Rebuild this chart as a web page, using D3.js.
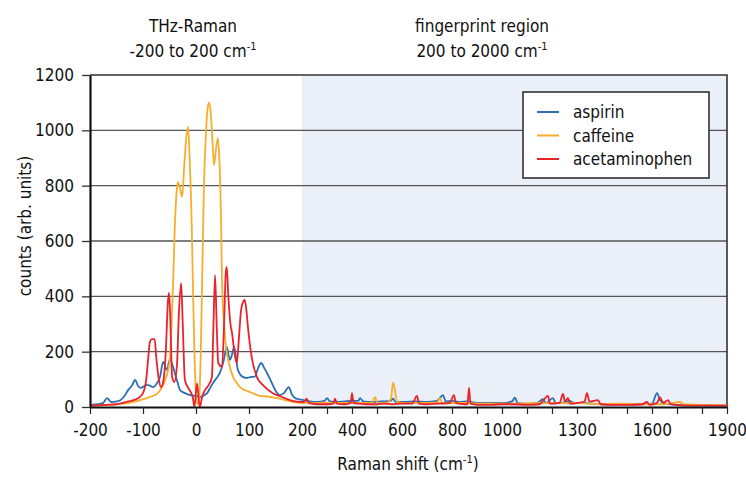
<!DOCTYPE html>
<html lang="en">
<head>
<meta charset="UTF-8">
<title>THz-Raman spectra</title>
<script src="https://d3js.org/d3.v7.min.js"></script>
<style>
  body { margin: 0; background: #fff; }
  text { font-family: "DejaVu Sans Condensed", "DejaVu Sans", sans-serif; font-stretch: condensed; fill: #111; }
</style>
</head>
<body>
<div id="chart"></div>
<script>
// Raman shift (cm-1), counts pairs
const aspirin = [
  [-200, 8], [-185, 10], [-175, 15], [-168, 32], [-160, 18], [-150, 20], [-142, 25], [-135, 40],
  [-128, 61], [-120, 80], [-115, 98], [-109, 75], [-104, 69], [-98, 75], [-94, 80], [-88, 78],
  [-81, 72], [-74, 85], [-68, 108], [-62, 163], [-55, 134], [-49, 173], [-44, 150], [-40, 123],
  [-35, 90], [-30, 61], [-21, 50], [-11, 43], [0, 40], [8, 36], [15, 42], [21, 50], [27, 70],
  [32, 87], [39, 105], [45, 123], [52, 165], [58, 217], [64, 170], [68, 190], [72, 217], [79, 134],
  [89, 108], [96, 105], [102, 108], [111, 110], [117, 140], [123, 159], [129, 140], [134, 123],
  [143, 87], [150, 60], [158, 43], [166, 50], [175, 72], [181, 45], [187, 32], [195, 28], [206, 25],
  [230, 20], [260, 18], [290, 22], [300, 32], [312, 20], [340, 18], [370, 20], [400, 22], [425, 22],
  [432, 32], [445, 20], [480, 18], [520, 20], [555, 22], [564, 30], [575, 18], [610, 18], [650, 20],
  [700, 18], [740, 22], [764, 43], [775, 20], [800, 22], [830, 18], [860, 20], [900, 15], [950, 15],
  [1000, 14], [1040, 20], [1052, 34], [1062, 14], [1100, 12], [1140, 14], [1164, 28], [1175, 14],
  [1204, 32], [1215, 14], [1240, 15], [1270, 22], [1290, 14], [1330, 15], [1360, 12], [1400, 10],
  [1450, 10], [1500, 10], [1560, 10], [1600, 12], [1620, 50], [1632, 25], [1650, 12], [1700, 8],
  [1750, 6], [1800, 6], [1850, 5], [1900, 5]
];

const caffeine = [
  [-200, 5], [-180, 6], [-160, 8], [-140, 12], [-128, 14], [-110, 22], [-96, 30], [-85, 38],
  [-77, 43], [-68, 60], [-58, 98], [-52, 140], [-49, 181], [-46, 300], [-43, 459], [-40, 650],
  [-36, 790], [-34, 813], [-30, 790], [-26, 760], [-22, 880], [-18, 980], [-15, 1012], [-12, 900],
  [-8, 650], [-6, 460], [-3, 200], [0, 40], [3, 10], [6, 30], [9, 200], [12, 500], [15, 800],
  [19, 1000], [22, 1080], [24.5, 1100], [27, 1080], [30, 1000], [34, 875], [37, 920], [41, 972],
  [44, 900], [47, 700], [49, 460], [53, 300], [57, 210], [62, 160], [70, 108], [77, 87], [83, 72],
  [96, 58], [102, 54], [121, 40], [135, 38], [153, 32], [177, 20], [202, 14],
  [220, 16], [250, 14], [280, 16], [320, 14], [360, 15], [400, 14], [430, 14], [455, 15], [480, 16],
  [492, 36], [502, 14], [540, 16], [556, 30], [564, 88], [572, 60], [580, 18], [620, 14], [680, 15],
  [740, 16], [752, 32], [760, 16], [800, 14], [860, 15], [900, 12], [960, 12], [1000, 12],
  [1060, 12], [1120, 14], [1200, 14], [1260, 14], [1300, 14], [1350, 12], [1400, 10], [1450, 12],
  [1500, 12], [1550, 10], [1600, 10], [1650, 10], [1712, 18], [1725, 10], [1800, 8], [1900, 6]
];

const acetaminophen = [
  [-200, 5], [-170, 8], [-150, 10], [-128, 20], [-109, 32], [-100, 50], [-94, 98], [-90, 180],
  [-87, 235], [-83, 245], [-78, 245], [-75, 180], [-70, 98], [-66, 72], [-62, 90], [-57, 200],
  [-53, 380], [-51, 412], [-49, 350], [-45, 108], [-41, 90], [-36, 150], [-32, 350], [-28, 448],
  [-25, 300], [-21, 98], [-15, 70], [-9, 50], [-6, 35], [-3, 0], [2, 85], [7, 0], [12, 40],
  [17, 61], [24, 80], [30, 108], [33, 300], [36, 477], [39, 300], [42, 159], [49, 145], [53, 300],
  [56, 480], [58, 506], [61, 400], [65, 300], [68, 267], [73, 190], [77, 159], [81, 250], [85, 350],
  [89, 380], [92, 387], [95, 350], [98, 289], [105, 181], [115, 108], [126, 80], [145, 50],
  [160, 38], [177, 25], [202, 18],
  [210, 20], [218, 30], [228, 14], [260, 10], [300, 10], [325, 12], [332, 30], [340, 12], [370, 10],
  [395, 15], [400, 50], [406, 15], [430, 12], [460, 10], [500, 10], [530, 12], [560, 10], [600, 12],
  [640, 12], [660, 40], [668, 12], [700, 10], [740, 12], [790, 14], [808, 43], [816, 14], [850, 10],
  [862, 10], [868, 69], [874, 12], [900, 8], [960, 8], [1000, 10], [1040, 10], [1100, 8], [1150, 10],
  [1184, 40], [1192, 12], [1230, 15], [1244, 47], [1252, 20], [1264, 32], [1272, 12], [1300, 14],
  [1330, 20], [1340, 50], [1350, 20], [1384, 25], [1395, 10], [1440, 8], [1500, 8], [1560, 10],
  [1580, 18], [1590, 8], [1620, 15], [1632, 35], [1645, 15], [1664, 25], [1675, 10], [1720, 6],
  [1800, 5], [1900, 5]
];

const seriesNames = ["aspirin", "caffeine", "acetaminophen"];
const seriesColors = ["#2b6fb6", "#f8ad2c", "#e8232b"];
const majorTicks = [-200, -100, 0, 100, 200, 400, 600, 800, 1000, 1300, 1600, 1900];
const minorTicks = [300, 500, 700, 900, 1100, 1200, 1400, 1500, 1700, 1800];
const yTicks = [0, 200, 400, 600, 800, 1000, 1200];

const width = 746, height = 480;
const plotLeft = 90, plotRight = 727, plotTop = 75, plotBottom = 407;
const fontStack = "\"DejaVu Sans Condensed\", \"DejaVu Sans\", sans-serif";

const svg = d3.select("#chart").append("svg")
  .attr("width", width)
  .attr("height", height);

// split axis: THz part is stretched, fingerprint part compressed
const x = d3.scaleLinear().domain([-200, 200, 1900]).range([plotLeft, 302, plotRight]);
const y = d3.scaleLinear().domain([0, 1200]).range([plotBottom, plotTop]);

// fingerprint background
svg.append("rect")
  .attr("x", x(200)).attr("y", plotTop)
  .attr("width", x(1900) - x(200)).attr("height", plotBottom - plotTop)
  .attr("fill", "#ebf0f8");

// gridlines
svg.append("g").selectAll("line")
  .data(yTicks.filter(d => d > 0 && d < 1200))
  .join("line")
  .attr("x1", plotLeft).attr("x2", plotRight)
  .attr("y1", d => y(d)).attr("y2", d => y(d))
  .attr("stroke", "#555").attr("stroke-width", 1.3);

// frame top/right
svg.append("path")
  .attr("d", `M${plotLeft},${y(1200)}H${plotRight}V${plotBottom}`)
  .attr("fill", "none").attr("stroke", "#333").attr("stroke-width", 1.6);

// spectra
svg.append("clipPath").attr("id", "plot")
  .append("rect").attr("x", plotLeft).attr("y", plotTop - 2)
  .attr("width", plotRight - plotLeft).attr("height", plotBottom - plotTop + 2);

const line = d3.line()
  .x(d => x(d[0]))
  .y(d => y(d[1]))
  .curve(d3.curveMonotoneX);

const spectra = [aspirin, caffeine, acetaminophen];
svg.append("g").attr("clip-path", "url(#plot)")
  .selectAll("path")
  .data(spectra)
  .join("path")
  .attr("d", line)
  .attr("fill", "none")
  .attr("stroke", (d, i) => seriesColors[i])
  .attr("stroke-width", 1.8)
  .attr("stroke-linejoin", "round");

// axes
const xAxis = svg.append("g")
  .attr("transform", `translate(0,${plotBottom})`)
  .call(d3.axisBottom(x)
    .tickValues(majorTicks.concat(minorTicks))
    .tickFormat(d => majorTicks.includes(d) ? d : "")
    .tickSize(7)
    .tickSizeOuter(0)
    .tickPadding(10));
xAxis.select(".domain").attr("stroke", "#111").attr("stroke-width", 2);
xAxis.selectAll(".tick line").attr("stroke", "#222").attr("stroke-width", 1.2);
xAxis.selectAll(".tick text").attr("font-size", 17).attr("fill", "#111")
  .attr("font-family", fontStack).style("font-stretch", "condensed");

const yAxis = svg.append("g")
  .attr("transform", `translate(${plotLeft},0)`)
  .call(d3.axisLeft(y).tickValues(yTicks).tickFormat(d3.format("d"))
    .tickSize(8).tickSizeOuter(0).tickPadding(8));
yAxis.select(".domain").attr("stroke", "#111").attr("stroke-width", 2.2);
yAxis.selectAll(".tick line").attr("stroke", "#333").attr("stroke-width", 1.3);
yAxis.selectAll(".tick text").attr("font-size", 17).attr("fill", "#111")
  .attr("font-family", fontStack).style("font-stretch", "condensed");

// axis titles
const xt = svg.append("text")
  .attr("x", 408).attr("y", 470)
  .attr("text-anchor", "middle").attr("font-size", 17)
  .text("Raman shift (cm");
xt.append("tspan").attr("font-size", 11).attr("dy", -7).text("-1");
xt.append("tspan").attr("dy", 7).text(")");

svg.append("text")
  .attr("transform", "translate(31,226) rotate(-90)")
  .attr("text-anchor", "middle").attr("font-size", 17)
  .text("counts (arb. units)");

// region headings
function heading(cx, name, range) {
  svg.append("text").attr("x", cx).attr("y", 32)
    .attr("text-anchor", "middle").attr("font-size", 17).text(name);
  const t = svg.append("text").attr("x", cx).attr("y", 57)
    .attr("text-anchor", "middle").attr("font-size", 17).text(range + " cm");
  t.append("tspan").attr("font-size", 11).attr("dy", -7).text("-1");
}
heading(193, "THz-Raman", "-200 to 200");
heading(482, "fingerprint region", "200 to 2000");

// legend
const lg = svg.append("g").attr("transform", "translate(523,92)");
lg.append("rect").attr("width", 186).attr("height", 86)
  .attr("fill", "#fff").attr("stroke", "#333").attr("stroke-width", 1.6);
seriesNames.forEach((name, i) => {
  const row = lg.append("g").attr("transform", `translate(0,${20 + i * 23.5})`);
  row.append("line").attr("x1", 14).attr("x2", 36)
    .attr("stroke", seriesColors[i]).attr("stroke-width", 2);
  row.append("text").attr("x", 50).attr("y", 6).attr("font-size", 17).text(name);
});
</script>
</body>
</html>
